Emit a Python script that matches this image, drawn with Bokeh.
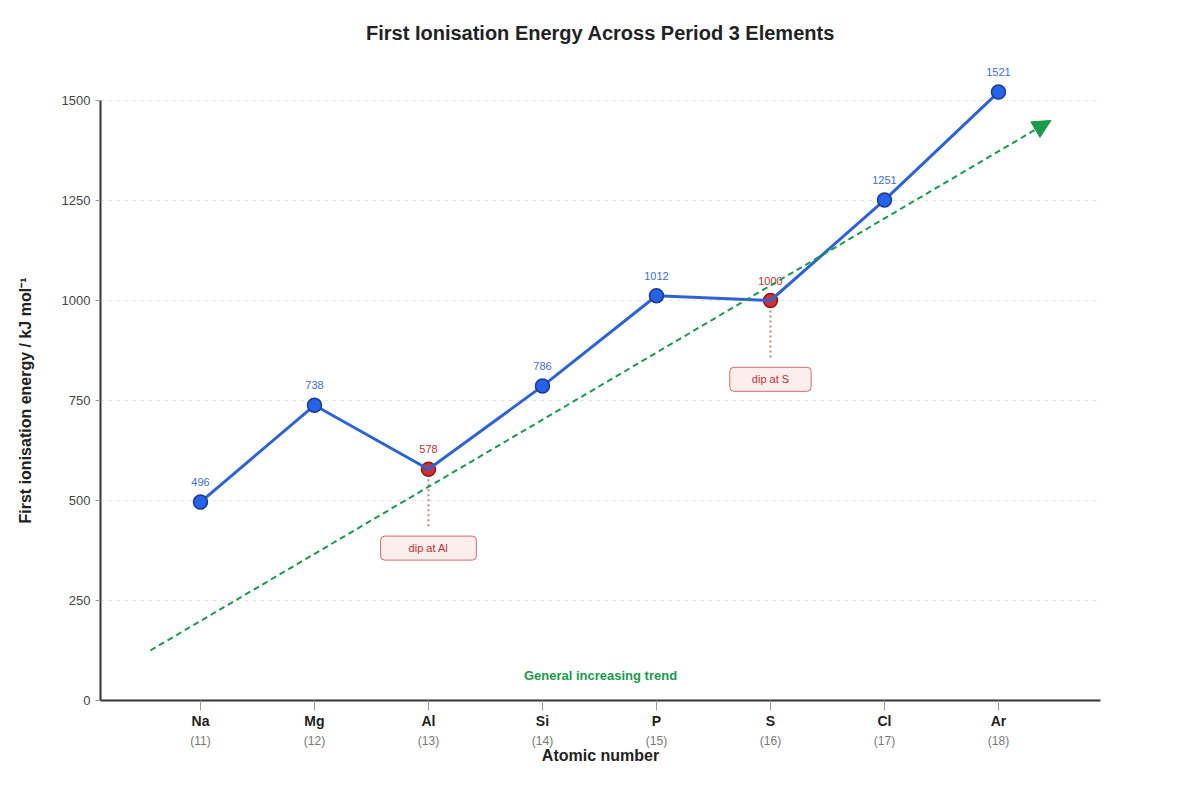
from bokeh.plotting import figure
from bokeh.models import (Range1d, LinearAxis, FixedTicker, ColumnDataSource, Label,
                          Arrow, NormalHead)
from bokeh.core.properties import value
from bokeh.embed import file_html
from bokeh.resources import INLINE

# ---- data ----
elements = ["Na", "Mg", "Al", "Si", "P", "S", "Cl", "Ar"]
atomic_numbers = [11, 12, 13, 14, 15, 16, 17, 18]
energies = [496, 738, 578, 786, 1012, 1000, 1251, 1521]
dip_elements = ["Al", "S"]
dip_labels = ["dip at Al", "dip at S"]
trend_x = [10.56, 18.46]
trend_y = [125, 1450]
y_ticks = [0, 250, 500, 750, 1000, 1250, 1500]

FONT = "Liberation Sans"
BLUE_LINE = "#2c64d8"
BLUE_FILL = "#2563eb"
BLUE_EDGE = "#1e3a8a"
RED_FILL = "#d32f2f"
RED_EDGE = "#8b1a1a"
RED_TEXT = "#c53030"
GREEN = "#1a9b4b"

is_dip = [e in dip_elements for e in elements]
normal_idx = [i for i, d in enumerate(is_dip) if not d]
dip_idx = [i for i, d in enumerate(is_dip) if d]

src_normal = ColumnDataSource(dict(x=[atomic_numbers[i] for i in normal_idx],
                                   y=[energies[i] for i in normal_idx],
                                   t=[str(energies[i]) for i in normal_idx]))
src_dip = ColumnDataSource(dict(x=[atomic_numbers[i] for i in dip_idx],
                                y=[energies[i] for i in dip_idx],
                                t=[str(energies[i]) for i in dip_idx]))

p = figure(width=1200, height=800, output_backend="svg", toolbar_location=None,
           x_range=Range1d(10.123, 18.895), y_range=Range1d(0, 1600),
           min_border_left=100, min_border_right=100, min_border_bottom=100, min_border_top=60,
           x_axis_location=None, y_axis_location=None)
p.outline_line_color = None
p.background_fill_color = "white"
p.border_fill_color = "white"

p.title.text = "First Ionisation Energy Across Period 3 Elements"
p.title.align = "center"
p.title.text_font = FONT
p.title.text_font_size = "20px"
p.title.text_font_style = "bold"
p.title.text_color = "#222222"
p.title.offset = 0
p.title.standoff = 34

# y axis
yax = LinearAxis(ticker=FixedTicker(ticks=y_ticks), bounds=(0, 1500))
# trailing no-break spaces shift the centred label down onto the 0-1500 span
yax.axis_label = "First ionisation energy / kJ mol⁻¹" + "\u00a0" * 9
yax.axis_label_text_font = FONT
yax.axis_label_text_font_size = "16px"
yax.axis_label_text_font_style = "bold"
yax.axis_label_text_color = "#222222"
yax.axis_label_standoff = 25
yax.major_label_text_font = FONT
yax.major_label_text_font_size = "13px"
yax.major_label_text_color = "#444444"
yax.major_label_standoff = 5
yax.axis_line_width = 2
yax.axis_line_color = "#333333"
yax.major_tick_in = 0
yax.major_tick_out = 5
yax.major_tick_line_color = "#999999"
yax.minor_tick_line_color = None
p.add_layout(yax, "left")

# x axis: element symbols
xax = LinearAxis(ticker=FixedTicker(ticks=atomic_numbers))
xax.major_label_overrides = {n: e for n, e in zip(atomic_numbers, elements)}
xax.major_label_text_font = FONT
xax.major_label_text_font_size = "14px"
xax.major_label_text_font_style = "bold"
xax.major_label_text_color = "#222222"
xax.major_label_standoff = 2
xax.axis_line_width = 2
xax.axis_line_color = "#333333"
xax.major_tick_in = 0
xax.major_tick_out = 10
xax.major_tick_line_color = "#999999"
xax.minor_tick_line_color = None
p.add_layout(xax, "below")

# x axis: atomic numbers
xax2 = LinearAxis(ticker=FixedTicker(ticks=atomic_numbers))
xax2.major_label_overrides = {n: f"({n})" for n in atomic_numbers}
xax2.major_label_text_font = FONT
xax2.major_label_text_font_size = "12px"
xax2.major_label_text_color = "#777777"
xax2.major_label_standoff = -4
xax2.axis_line_color = None
xax2.major_tick_line_color = None
xax2.minor_tick_line_color = None
xax2.axis_label = "Atomic number"
xax2.axis_label_text_font = FONT
xax2.axis_label_text_font_size = "16px"
xax2.axis_label_text_font_style = "bold"
xax2.axis_label_text_color = "#222222"
xax2.axis_label_standoff = -4
p.add_layout(xax2, "below")

# grid
p.xgrid.visible = False
p.ygrid.ticker = FixedTicker(ticks=y_ticks[1:])
p.ygrid.grid_line_color = "#e2e2e2"
p.ygrid.grid_line_dash = "4 4"
p.ygrid.grid_line_width = 1

# trend arrow
p.add_layout(Arrow(x_start=trend_x[0], y_start=trend_y[0], x_end=trend_x[1], y_end=trend_y[1],
                   line_color=GREEN, line_width=2, line_dash="6 4",
                   end=NormalHead(size=18, fill_color=GREEN, line_color=GREEN)))
p.add_layout(Label(x=14.509, y=62.5, text="General increasing trend", text_font=FONT,
                   text_font_size="13px", text_font_style="bold", text_color=GREEN,
                   text_align="center", text_baseline="middle"))

# dotted lines from dip points to annotation boxes
dip_x = [atomic_numbers[i] for i in dip_idx]
dip_y = [energies[i] for i in dip_idx]
p.segment(x0=dip_x, y0=[y - 25 for y in dip_y], x1=dip_x, y1=[y - 148 for y in dip_y],
          line_color="#c98080", line_width=2, line_dash="2 3")

for x, y, lab in zip(dip_x, dip_y, dip_labels):
    p.add_layout(Label(x=x, y=y - 197, text=lab, text_font=FONT, text_font_size="11px",
                       text_color=RED_TEXT, text_align="center", text_baseline="middle",
                       background_fill_color="#fdeeee", border_line_color="#d66a6a",
                       border_line_width=1, border_radius=4,
                       padding={"left": 28 if lab == "dip at Al" else 22,
                                "right": 28 if lab == "dip at Al" else 22,
                                "top": 6, "bottom": 6}))

# red markers under line
p.scatter("x", "y", source=src_dip, size=14, fill_color=RED_FILL, line_color=RED_EDGE,
          line_width=1.5)
# main line
p.line(atomic_numbers, energies, line_color=BLUE_LINE, line_width=3)
# blue markers
p.scatter("x", "y", source=src_normal, size=14, fill_color=BLUE_FILL, line_color=BLUE_EDGE,
          line_width=1.5)

# value labels
p.text("x", "y", text="t", source=src_normal, y_offset=-20, text_font=value(FONT),
       text_font_size="11px", text_color="#3a6fd8", text_align="center", text_baseline="middle")
p.text("x", "y", text="t", source=src_dip, y_offset=-20, text_font=value(FONT),
       text_font_size="11px", text_color=RED_TEXT, text_align="center", text_baseline="middle")

open("out.html", "w").write(file_html(p, INLINE))
